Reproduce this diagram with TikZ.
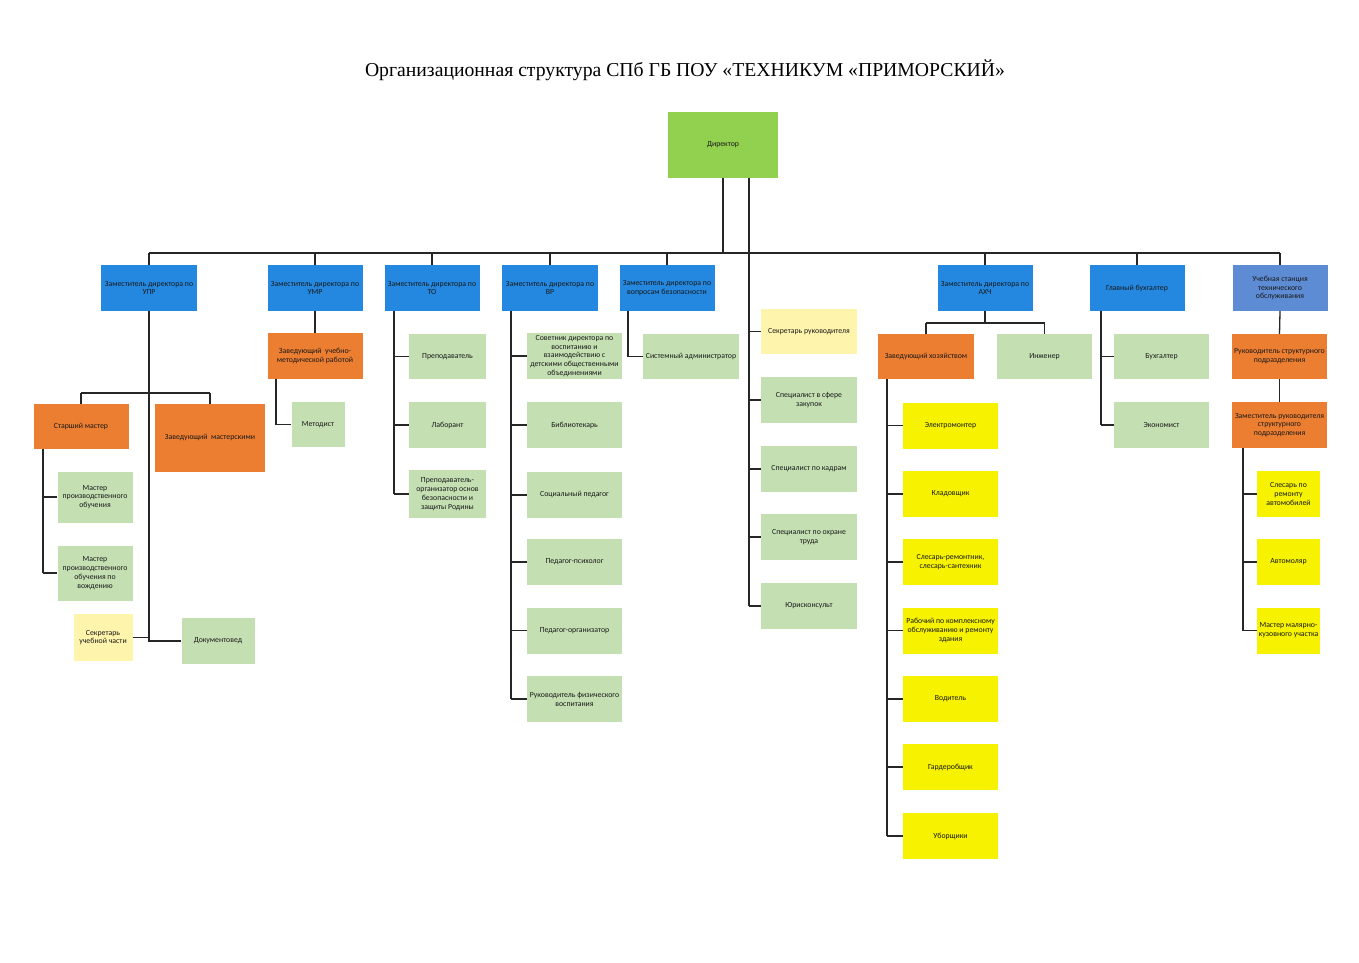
\documentclass[tikz,border=0pt]{standalone}
\usepackage{fontspec}
\setmainfont{Liberation Serif}
\newfontfamily\boxfont{Carlito}
\definecolor{cblue}{RGB}{36,136,224}
\definecolor{clblue}{RGB}{94,140,212}
\definecolor{cgreen}{RGB}{146,208,80}
\definecolor{clgreen}{RGB}{196,224,178}
\definecolor{corange}{RGB}{236,126,50}
\definecolor{cyellow}{RGB}{246,242,0}
\definecolor{clyellow}{RGB}{255,244,172}
\begin{document}
\begin{tikzpicture}[x=1pt,y=-1pt,
  bx/.style n args={3}{inner sep=1pt, align=center, font=\boxfont\fontsize{7.8}{8.8}\selectfont, text=black!90, fill=#1, minimum width=#2pt, minimum height=#3pt},
  ln/.style={draw=black!85, line width=1.3pt}]
\useasboundingbox (0,0) rectangle (1359,963);
\fill[white] (0,0) rectangle (1359,963);
\node[font=\fontsize{19.7}{23}\selectfont] (title) at (685,70) {Организационная структура СПб ГБ ПОУ «ТЕХНИКУМ «ПРИМОРСКИЙ»};

% level 0
\node[bx={cgreen}{110}{66}] (dir) at (723,145) {Директор};
% level 1
\node[bx={cblue}{96}{46}] (upr) at (149,288) {Заместитель директора по\\УПР};
\node[bx={cblue}{95}{46}] (umr) at (315,288) {Заместитель директора по\\УМР};
\node[bx={cblue}{95}{46}] (zto) at (432,288) {Заместитель директора по\\ТО};
\node[bx={cblue}{96}{46}] (zvr) at (550,288) {Заместитель директора по\\ВР};
\node[bx={cblue}{95}{46}] (zbez) at (667,288) {Заместитель директора по\\вопросам безопасности};
\node[bx={cblue}{95}{46}] (zahch) at (985,288) {Заместитель директора по\\АХЧ};
\node[bx={cblue}{95}{46}] (gb) at (1137,288) {Главный бухгалтер};
\node[bx={clblue}{95}{46}] (usto) at (1280,288) {Учебная станция\\технического\\обслуживания};

% UPR subtree
\node[bx={corange}{95}{45}] (smaster) at (81,426.5) {Старший мастер};
\node[bx={corange}{110}{68}] (zmast) at (210,438) {Заведующий\ \ мастерскими};
\node[bx={clgreen}{75}{51}] (mpo1) at (95,497) {Мастер\\производственного\\обучения};
\node[bx={clgreen}{75}{55}] (mpo2) at (95,573) {Мастер\\производственного\\обучения по\\вождению};
\node[bx={clyellow}{59}{47}] (suchch) at (103,637.5) {Секретарь\\учебной части};
\node[bx={clgreen}{73}{46}] (dokum) at (218,641) {Документовед};

% UMR subtree
\node[bx={corange}{95}{46}] (zumr) at (315,356) {Заведующий\ \ учебно-\\методической работой};
\node[bx={clgreen}{53}{45}] (metod) at (318,424.5) {Методист};

% TO subtree
\node[bx={clgreen}{77}{45}] (prep) at (447.5,356.5) {Преподаватель};
\node[bx={clgreen}{77}{46}] (lab) at (447.5,425) {Лаборант};
\node[bx={clgreen}{77}{48}] (prorg) at (447.5,494) {Преподаватель-\\организатор основ\\безопасности и\\защиты Родины};

% VR subtree
\node[bx={clgreen}{95}{46}] (sov) at (574.5,356) {Советник директора по\\воспитанию и\\взаимодействию с\\детскими общественными\\объединениями};
\node[bx={clgreen}{95}{46}] (bib) at (574.5,425) {Библиотекарь};
\node[bx={clgreen}{95}{46}] (socp) at (574.5,495) {Социальный педагог};
\node[bx={clgreen}{95}{46}] (psih) at (574.5,562) {Педагог-психолог};
\node[bx={clgreen}{95}{46}] (porg) at (574.5,630.5) {Педагог-организатор};
\node[bx={clgreen}{95}{46}] (rfv) at (574.5,699) {Руководитель физического\\воспитания};

% security
\node[bx={clgreen}{96}{45}] (sysadm) at (691,356.5) {Системный администратор};

% staff column
\node[bx={clyellow}{96}{45}] (secr) at (809,331.5) {Секретарь руководителя};
\node[bx={clgreen}{96}{46}] (zak) at (809,400) {Специалист в сфере\\закупок};
\node[bx={clgreen}{96}{46}] (kadr) at (809,469) {Специалист по кадрам};
\node[bx={clgreen}{96}{46}] (ohr) at (809,537) {Специалист по охране\\труда};
\node[bx={clgreen}{96}{46}] (yur) at (809,606) {Юрисконсульт};

% AHCh subtree
\node[bx={corange}{96}{45}] (zhoz) at (926,356.5) {Заведующий хозяйством};
\node[bx={clgreen}{95}{45}] (inzh) at (1044.5,356.5) {Инженер};
\node[bx={cyellow}{95}{46}] (elm) at (950.5,425.5) {Электромонтер};
\node[bx={cyellow}{95}{46}] (klad) at (950.5,494) {Кладовщик};
\node[bx={cyellow}{95}{46}] (sles) at (950.5,562) {Слесарь-ремонтник,\\слесарь-сантехник};
\node[bx={cyellow}{95}{46}] (rab) at (950.5,630.5) {Рабочий по комплексному\\обслуживанию и ремонту\\здания};
\node[bx={cyellow}{95}{46}] (vod) at (950.5,699) {Водитель};
\node[bx={cyellow}{95}{46}] (gard) at (950.5,767) {Гардеробщик};
\node[bx={cyellow}{95}{46}] (ubor) at (950.5,836) {Уборщики};

% GB subtree
\node[bx={clgreen}{95}{45}] (buh) at (1161.5,356.5) {Бухгалтер};
\node[bx={clgreen}{95}{46}] (ekon) at (1161.5,425) {Экономист};

% USTO subtree
\node[bx={corange}{95}{45}] (rsp) at (1279.5,356.5) {Руководитель структурного\\подразделения};
\node[bx={corange}{95}{46}] (zrsp) at (1279.5,425) {Заместитель руководителя\\структурного\\подразделения};
\node[bx={cyellow}{63}{46}] (slar) at (1288.5,494) {Слесарь по\\ремонту\\автомобилей};
\node[bx={cyellow}{63}{46}] (avtm) at (1288.5,562) {Автомоляр};
\node[bx={cyellow}{63}{46}] (mmku) at (1288.5,630.5) {Мастер малярно-\\кузовного участка};

% helper coordinates
\coordinate (bus) at (0,253);
\coordinate (staffx) at (749,0);
\coordinate (smx) at (43,0);
\coordinate (umx) at (276,0);
\coordinate (tox) at (394,0);
\coordinate (vrx) at (511,0);
\coordinate (bzx) at (628,0);
\coordinate (ahbus) at (0,323);
\coordinate (hzx) at (887,0);
\coordinate (gbx) at (1101,0);
\coordinate (usx) at (1243,0);
\coordinate (upbus) at (0,393);

% connectors
\begin{scope}[ln]
\draw (upr.north |- bus) -- (usto.north |- bus);
\draw (dir.south) -- (dir.south |- bus);
\draw (dir.south -| staffx) -- (yur.west -| staffx);
\foreach \n in {secr,zak,kadr,ohr,yur} \draw (\n.west -| staffx) -- (\n.west);
\foreach \n in {upr,umr,zto,zvr,zbez,zahch,gb,usto} \draw (\n.north |- bus) -- (\n.north);
% UPR
\draw (upr.south) -- (upr.south |- dokum.west) -- (dokum.west);
\draw (suchch.east) -- (suchch.east -| upr.south);
\draw (smaster.north |- upbus) -- (zmast.north |- upbus);
\draw (smaster.north |- upbus) -- (smaster.north);
\draw (zmast.north |- upbus) -- (zmast.north);
\draw (smaster.south -| smx) -- (mpo2.west -| smx);
\foreach \n in {mpo1,mpo2} \draw (\n.west -| smx) -- (\n.west);
% UMR
\draw (umr.south) -- (zumr.north);
\draw (zumr.south -| umx) |- (metod.west);
% TO
\draw (zto.south -| tox) -- (prorg.west -| tox);
\foreach \n in {prep,lab,prorg} \draw (\n.west -| tox) -- (\n.west);
% VR
\draw (zvr.south -| vrx) -- (rfv.west -| vrx);
\foreach \n in {sov,bib,socp,psih,porg,rfv} \draw (\n.west -| vrx) -- (\n.west);
% security
\draw (zbez.south -| bzx) |- (sysadm.west);
% AHCh
\draw (zahch.south) -- (zahch.south |- ahbus);
\draw (zhoz.north |- ahbus) -- (inzh.north |- ahbus);
\draw (zhoz.north |- ahbus) -- (zhoz.north);
\draw (inzh.north |- ahbus) -- (inzh.north);
\draw (zhoz.south -| hzx) -- (ubor.west -| hzx);
\foreach \n in {elm,klad,sles,rab,vod,gard,ubor} \draw (\n.west -| hzx) -- (\n.west);
% GB
\draw (gb.south -| gbx) -- (ekon.west -| gbx);
\foreach \n in {buh,ekon} \draw (\n.west -| gbx) -- (\n.west);
% USTO
\draw (usto.south) -- (rsp.north);
\draw (rsp.south) -- (zrsp.north);
\draw (zrsp.south -| usx) -- (mmku.west -| usx);
\foreach \n in {slar,avtm,mmku} \draw (\n.west -| usx) -- (\n.west);
\end{scope}
\end{tikzpicture}
\end{document}
